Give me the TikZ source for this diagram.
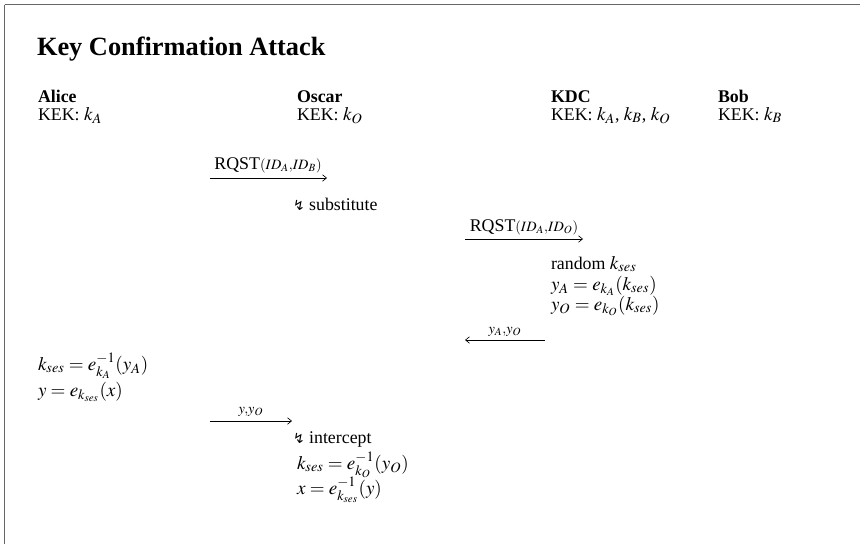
\documentclass[tikz,border=0pt]{standalone}
\usepackage{mathptmx}
\usepackage{fontspec}
\setmainfont{Liberation Serif}
\newfontfamily\symfnt{DejaVu Sans}
\DeclareMathSizes{11.5}{12.3}{9.2}{7.1}
\usetikzlibrary{arrows.meta}
\newcommand{\lightn}{{\symfnt\fontsize{9}{10}\selectfont ↯}}
\tikzset{
  txt/.style={anchor=base west, inner sep=0pt, outer sep=0pt, font=\fontsize{11.5}{13}\selectfont},
  lbl/.style={anchor=base, inner sep=0pt, outer sep=0pt, font=\fontsize{11.5}{13}\selectfont},
  msg/.style={line width=0.4pt, -{Straight Barb[length=2.6pt,width=4.2pt]}},
  frame/.style={draw=black!60, line width=0.9pt}
}
\begin{document}
\begin{tikzpicture}[x=0.645pt, y=-0.645pt]
\useasboundingbox (0,0) rectangle (860,543);
\draw[frame] (4.5,4.5) -- (4.5,600) (4.5,4.5) -- (900,4.5);
\node[txt, font=\fontsize{17}{20}\selectfont\bfseries] (title) at (37,55) {Key Confirmation Attack};
\node[txt] (alice) at (38,102) {\bfseries Alice};
\node[txt] (alicek) at (38,120) {KEK: $k_A$};
\node[txt] (oscar) at (297,102) {\bfseries Oscar};
\node[txt] (oscark) at (297,120) {KEK: $k_O$};
\node[txt] (kdc) at (551,102) {\bfseries KDC};
\node[txt] (kdck) at (551,120) {KEK: $k_A$, $k_B$, $k_O$};
\node[txt] (bob) at (718,102) {\bfseries Bob};
\node[txt] (bobk) at (718,120) {KEK: $k_B$};
% message 1
\coordinate (a1s) at (210,178);
\coordinate (a1e) at (327,178);
\draw[msg] (a1s) -- (a1e);
\node[lbl] (l1) at (268,169) {RQST$\scriptstyle(ID_A,ID_B)$};
\node[txt] (sub) at (293,210) {\lightn\ substitute};
% message 2
\coordinate (a2s) at (465,239);
\coordinate (a2e) at (583,239);
\draw[msg] (a2s) -- (a2e);
\node[lbl] (l2) at (524,231) {RQST$\scriptstyle(ID_A,ID_O)$};
\node[txt] (kd1) at (551,269) {random $k_{ses}$};
\node[txt] (kd2) at (551,290) {$y_A = e_{k_A}(k_{ses})$};
\node[txt] (kd3) at (551,310) {$y_O = e_{k_O}(k_{ses})$};
% message 3
\coordinate (a3s) at (545,340);
\coordinate (a3e) at (465,340);
\draw[msg] (a3s) -- (a3e);
\node[lbl] (l3) at (505,333) {$\scriptstyle y_A,y_O$};
\node[txt] (al1) at (38,370) {$k_{ses} = e_{k_A}^{-1}(y_A)$};
\node[txt] (al2) at (38,396) {$y = e_{k_{ses}}(x)$};
% message 4
\coordinate (a4s) at (210,421);
\coordinate (a4e) at (292,421);
\draw[msg] (a4s) -- (a4e);
\node[lbl] (l4) at (251,413) {$\scriptstyle y,y_O$};
\node[txt] (os1) at (293,443) {\lightn\ intercept};
\node[txt] (os2) at (297,469) {$k_{ses} = e_{k_O}^{-1}(y_O)$};
\node[txt] (os3) at (297,494) {$x = e_{k_{ses}}^{-1}(y)$};
\end{tikzpicture}
\end{document}
